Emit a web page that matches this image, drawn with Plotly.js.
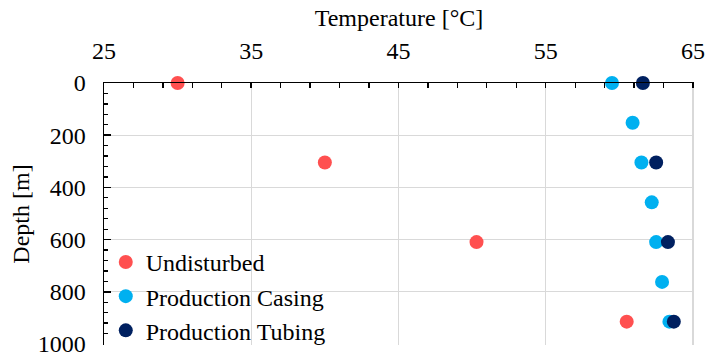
<!DOCTYPE html>
<html>
<head>
<meta charset="utf-8">
<script src="https://cdn.plot.ly/plotly-3.0.1.min.js"></script>
<style>html,body{margin:0;padding:0;background:#fff;}#chart{width:707px;height:354px;}</style>
</head>
<body>
<div id="chart"></div>
<script>
const seriesNames = ["Undisturbed", "Production Casing", "Production Tubing"];
const undisturbedDepth = [0, 304.8, 609.6, 914.4];
const undisturbedTemp = [30.0, 40.0, 50.3, 60.5];
const casingDepth = [0, 152.4, 304.8, 457.2, 609.6, 762, 914.4];
const casingTemp = [59.5, 60.9, 61.5, 62.2, 62.5, 62.9, 63.4];
const tubingDepth = [0, 304.8, 609.6, 914.4];
const tubingTemp = [61.6, 62.5, 63.3, 63.7];
const colors = ["#FF5050", "#00B0F0", "#002060"];

const fam = "Liberation Serif";
const tickFont = {family: fam, size: 24, color: "#000"};
const titleFont = {family: fam, size: 24, color: "#000"};
const mk = (name, x, y, c) => ({
  type: "scatter", mode: "markers", name: name, x: x, y: y,
  cliponaxis: false,
  marker: {color: c, size: 14}
});
const data = [
  mk(seriesNames[0], undisturbedTemp, undisturbedDepth, colors[0]),
  mk(seriesNames[1], casingTemp, casingDepth, colors[1]),
  mk(seriesNames[2], tubingTemp, tubingDepth, colors[2])
];
const layout = {
  width: 707, height: 354,
  margin: {l: 104, r: 13, t: 83, b: 9, autoexpand: false},
  paper_bgcolor: "#fff", plot_bgcolor: "#fff",
  font: tickFont,
  showlegend: true,
  legend: {x: 0.003, y: -0.03, xanchor: "left", yanchor: "bottom", bgcolor: "rgba(0,0,0,0)",
           font: tickFont, traceorder: "normal", itemwidth: 30},
  xaxis: {
    side: "top", range: [25, 65.07], tick0: 25, dtick: 10, automargin: false,
    title: {text: "Temperature [°C]", font: titleFont, standoff: 4},
    showline: true, linecolor: "#000", linewidth: 1.5,
    ticks: "inside", ticklen: 5, tickwidth: 1.5, tickcolor: "#000",
    ticklabelstandoff: 13, ticklabeloverflow: "allow",
    showgrid: true, gridcolor: "#D9D9D9", gridwidth: 1.3, zeroline: false,
    minor: {tick0: 25, dtick: 2, ticks: "inside", ticklen: 5, tickwidth: 1.3, tickcolor: "#000", showgrid: false},
    tickfont: tickFont
  },
  yaxis: {
    range: [1003.8, 0], tick0: 0, dtick: 200, automargin: false,
    title: {text: "Depth [m]", font: titleFont, standoff: 1},
    showline: true, linecolor: "#000", linewidth: 1.5,
    ticks: "inside", ticklen: 7, tickwidth: 1.5, tickcolor: "#000",
    ticklabelstandoff: 12, ticklabeloverflow: "allow",
    showgrid: true, gridcolor: "#D9D9D9", gridwidth: 1.3, zeroline: false,
    minor: {tick0: 0, dtick: 40, ticks: "inside", ticklen: 4, tickwidth: 1.3, tickcolor: "#000", showgrid: false},
    tickfont: tickFont
  }
};
Plotly.newPlot("chart", data, layout, {displayModeBar: false, staticPlot: true});
</script>
</body>
</html>
